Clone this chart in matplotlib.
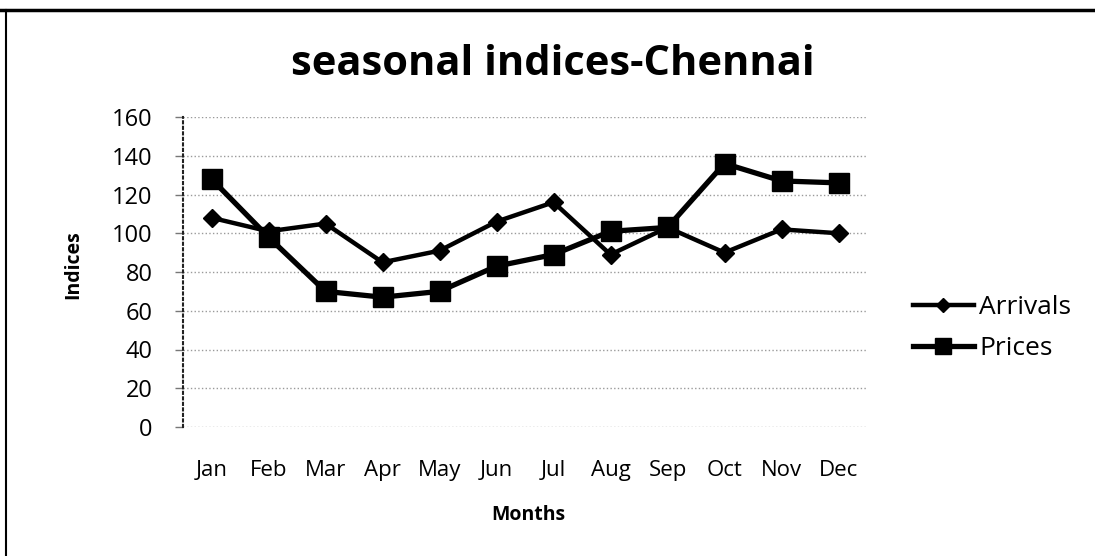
import matplotlib.pyplot as plt
from matplotlib.lines import Line2D

# seasonal indices
months = ['Jan', 'Feb', 'Mar', 'Apr', 'May', 'Jun',
          'Jul', 'Aug', 'Sep', 'Oct', 'Nov', 'Dec']
arrivals = [108, 101, 105, 85, 91, 106, 116, 89, 103, 90, 102, 100]
prices = [128, 98, 70, 67, 70, 83, 89, 101, 103, 136, 127, 126]
yticks = [0, 20, 40, 60, 80, 100, 120, 140, 160]

plt.rcParams['font.family'] = ['Open Sans', 'DejaVu Sans']

W, H = 1095, 556
fig = plt.figure(figsize=(W / 100, H / 100), dpi=100)
ax = fig.add_axes([183 / W, 1 - 427 / H, 684 / W, 310 / H])

x = list(range(len(months)))
ax.plot(x, arrivals, color='black', lw=3.2, marker='D', ms=9,
        label='Arrivals', zorder=3)
ax.plot(x, prices, color='black', lw=3.8, marker='s', ms=15,
        label='Prices', zorder=3)

ax.set_xlim(-0.5, 11.5)
ax.set_ylim(0, 160)
ax.set_yticks(yticks)
ax.set_xticks(x)
ax.set_xticklabels(months)

ax.grid(axis='y', color='#9a9a9a', linestyle=':', linewidth=1)
for s in ['top', 'right', 'bottom']:
    ax.spines[s].set_visible(False)
ax.spines['left'].set_color('#222222')
ax.spines['left'].set_linestyle(':')
ax.spines['left'].set_linewidth(1.5)

ax.tick_params(axis='y', length=6, width=1, color='#777777', pad=16,
               labelsize=17)
ax.tick_params(axis='x', length=0, pad=24, labelsize=16)

fig.text(553 / W, 1 - 65 / H, 'seasonal indices-Chennai', ha='center',
         va='center', fontsize=30, fontweight='bold')
fig.text(73 / W, 1 - 265 / H, 'Indices', rotation=90, ha='center',
         va='center', fontsize=14, fontweight='bold')
fig.text(528 / W, 1 - 515 / H, 'Months', ha='center', va='center',
         fontsize=14, fontweight='bold')

leg = ax.legend(loc='center left', bbox_to_anchor=(913 / W, 1 - 328 / H),
                bbox_transform=fig.transFigure, frameon=False, fontsize=19,
                handlelength=2.3, handletextpad=0.2, labelspacing=0.6,
                borderpad=0, borderaxespad=0, markerscale=0.75)

# scanned page border
fig.add_artist(Line2D([0, 1], [1 - 10 / H, 1 - 10 / H], color='black',
                      lw=2.5, transform=fig.transFigure))
fig.add_artist(Line2D([6 / W, 6 / W], [0, 1 - 10 / H], color='black',
                      lw=1.5, transform=fig.transFigure))

fig.savefig('out.png', dpi=100)
